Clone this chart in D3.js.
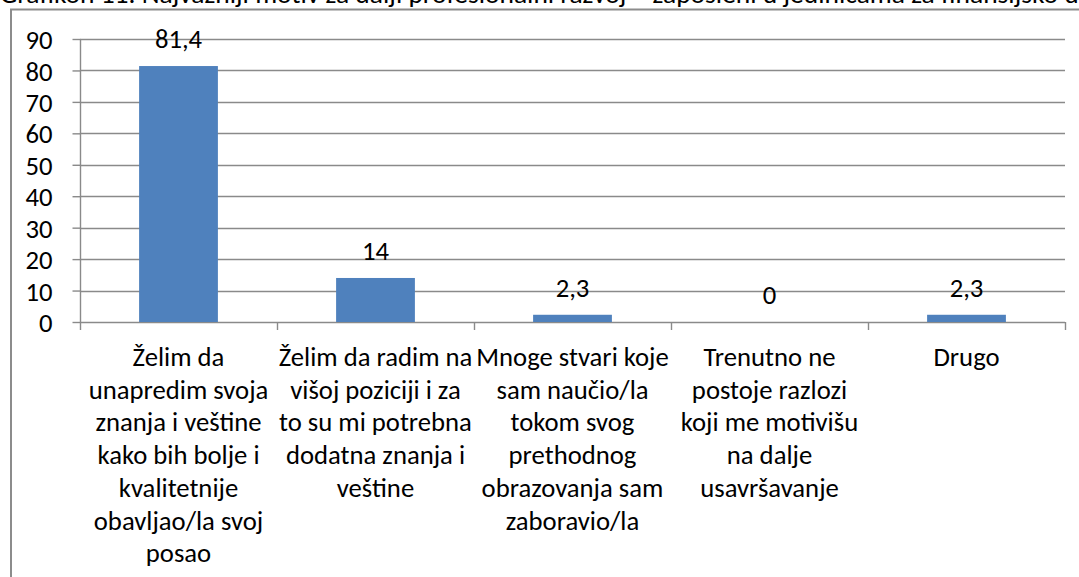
<!DOCTYPE html>
<html>
<head>
<meta charset="utf-8">
<script src="https://cdn.jsdelivr.net/npm/d3@7"></script>
<style>
  body { margin: 0; background: #fff; }
  svg { display: block; }
  text { font-family: Carlito, Calibri, Lato, sans-serif; fill: #000; }
</style>
</head>
<body>
<svg width="1079" height="577"></svg>
<script>
const title = "Grafikon 11. Najvažniji motiv za dalji profesionalni razvoj – zaposleni u jedinicama za finansijsko upravljanje i kontrolu"

const categories = [
  ["Želim da", "unapredim svoja", "znanja i veštine", "kako bih bolje i", "kvalitetnije", "obavljao/la svoj", "posao"],
  ["Želim da radim na", "višoj poziciji i za", "to su mi potrebna", "dodatna znanja i", "veštine"],
  ["Mnoge stvari koje", "sam naučio/la", "tokom svog", "prethodnog", "obrazovanja sam", "zaboravio/la"],
  ["Trenutno ne", "postoje razlozi", "koji me motivišu", "na dalje", "usavršavanje"],
  ["Drugo"]
]
const values = [81.4, 14, 2.3, 0, 2.3]
const yTicks = [0, 10, 20, 30, 40, 50, 60, 70, 80, 90]

const fontSize = "26.7px"

let svg = d3.select("svg")

// chart frame (only top and left edge are inside the window)
svg.append("path")
  .attr("d", "M11,577V9.5H1079")
  .attr("fill", "none")
  .attr("stroke", "#8c8c8c")
  .attr("stroke-width", 2)

// title, clipped at the top like the original
svg.append("text")
  .attr("x", 0)
  .attr("y", 3)
  .style("font-size", "27.5px")
  .text(title)

let x = d3.scaleBand()
  .domain(d3.range(values.length))
  .range([80, 1065])
  .paddingInner(0.6)
  .paddingOuter(0.3)

let xTicks = d3.scaleBand()
  .domain(d3.range(values.length))
  .range([80, 1065])

let y = d3.scaleLinear()
  .domain([0, 90])
  .range([322, 39])

// gridlines
svg.append("g")
  .selectAll("line")
  .data(yTicks.filter(d => d > 0))
  .enter()
  .append("line")
    .attr("x1", 80)
    .attr("x2", 1065)
    .attr("y1", d => Math.round(y(d)) + 0.5)
    .attr("y2", d => Math.round(y(d)) + 0.5)
    .attr("stroke", "#8a8a8a")
    .attr("stroke-width", 1.4)

// y axis
let yAxis = svg.append("g")
  .attr("transform", "translate(80.5,0)")
  .call(d3.axisLeft(y).tickValues(yTicks).tickSize(8).tickPadding(20))
yAxis.select(".domain").remove()
yAxis.append("line")
  .attr("y1", 39).attr("y2", 330)
yAxis.selectAll("line")
  .attr("stroke", "#8a8a8a")
  .attr("stroke-width", 1.4)
yAxis.selectAll(".tick line").attr("x2", -8)
yAxis.selectAll(".tick text")
  .attr("dy", "0.36em")
  .style("font-size", fontSize)
  .style("font-family", "Carlito, Calibri, Lato, sans-serif")
  .attr("fill", "#000")

// x axis line and ticks between categories
svg.append("line")
  .attr("x1", 80).attr("x2", 1065)
  .attr("y1", 322.5).attr("y2", 322.5)
  .attr("stroke", "#8a8a8a")
  .attr("stroke-width", 1.4)

let boundaries = xTicks.domain().map(d => xTicks(d)).concat([1065])
svg.append("g")
  .selectAll("line")
  .data(boundaries.slice(1))
  .enter()
  .append("line")
    .attr("x1", d => Math.round(d) + 0.5)
    .attr("x2", d => Math.round(d) + 0.5)
    .attr("y1", 322)
    .attr("y2", 330)
    .attr("stroke", "#8a8a8a")
    .attr("stroke-width", 1.4)

// bars
svg.append("g")
  .selectAll("rect")
  .data(values)
  .enter()
  .append("rect")
    .attr("x", (d, i) => x(i))
    .attr("y", d => y(d))
    .attr("width", x.bandwidth())
    .attr("height", d => y(0) - y(d))
    .attr("fill", "#4f81bd")

// value labels
svg.append("g")
  .selectAll("text")
  .data(values)
  .enter()
  .append("text")
    .attr("x", (d, i) => x(i) + x.bandwidth() / 2)
    .attr("y", d => y(d) - 18)
    .attr("text-anchor", "middle")
    .style("font-size", fontSize)
    .text(d => String(d).replace(".", ","))

// category labels
categories.forEach(function(lines, i) {
  let t = svg.append("text")
    .attr("text-anchor", "middle")
    .style("font-size", fontSize)
  lines.forEach(function(line, j) {
    t.append("tspan")
      .attr("x", xTicks(i) + xTicks.bandwidth() / 2)
      .attr("y", 366 + j * 32.7)
      .text(line)
  })
})
</script>
</body>
</html>
